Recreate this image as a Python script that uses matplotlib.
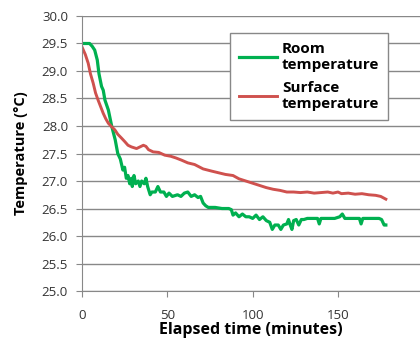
import matplotlib
matplotlib.use('Agg')
import matplotlib.pyplot as plt

# room temperature (green)
room_t = [0, 4.5, 6, 7.5, 9, 10, 11.5, 12.5, 13.5, 15.5, 17.5, 19.5, 21, 22.5, 24, 25, 26, 27,
          28, 29, 29.5, 30.5, 31.5, 33, 34, 35, 36.5, 37.5, 38.5, 40, 41, 43, 44.5, 46, 48,
          49.5, 51, 53, 56, 58, 60, 62, 64, 66, 68, 69.5, 71, 72.5, 74, 78, 82, 86, 87.5,
          88.5, 90, 92, 94, 96, 98, 100, 102, 104, 106, 108, 110, 111.5, 113, 115, 116.5,
          118, 120, 121, 122, 123, 124, 125.5, 127, 128.5, 130, 132, 138, 139, 140, 148,
          151, 152.5, 154, 162.5, 163.5, 164.5, 174, 175.5, 177, 178]
room_T = [29.5, 29.5, 29.45, 29.38, 29.2, 28.95, 28.72, 28.65, 28.47, 28.29, 27.99, 27.75,
          27.5, 27.4, 27.2, 27.25, 27.05, 27.1, 26.95, 27.05, 26.9, 27.1, 26.95, 27.0, 26.9,
          27.0, 26.95, 27.05, 26.9, 26.75, 26.8, 26.8, 26.9, 26.8, 26.8, 26.72, 26.78, 26.72,
          26.75, 26.72, 26.78, 26.8, 26.72, 26.75, 26.7, 26.72, 26.6, 26.55, 26.52, 26.52,
          26.5, 26.5, 26.48, 26.38, 26.42, 26.35, 26.4, 26.35, 26.35, 26.32, 26.38, 26.3,
          26.35, 26.28, 26.25, 26.12, 26.2, 26.2, 26.12, 26.2, 26.22, 26.3, 26.2, 26.12,
          26.28, 26.3, 26.2, 26.3, 26.3, 26.32, 26.32, 26.22, 26.32, 26.32, 26.35, 26.4,
          26.32, 26.32, 26.22, 26.32, 26.32, 26.3, 26.2, 26.2]

# surface temperature (red)
surf_t = [0, 2, 3.7, 5, 6.6, 8, 9.5, 11, 12.5, 14, 15.5, 17, 19.3, 21, 23.2, 25, 27, 29, 32,
          34, 36, 37.5, 39, 41.7, 45, 48.5, 52, 55, 58.3, 62, 66, 71, 76, 80, 84, 88.5, 92,
          96, 100, 104, 108, 112, 116, 120, 124, 128, 132, 136, 140, 144, 147, 150, 152, 156,
          160, 164, 168, 172, 175, 178]
surf_T = [29.44, 29.3, 29.14, 28.95, 28.78, 28.6, 28.47, 28.35, 28.23, 28.13, 28.05, 28.0,
          27.93, 27.85, 27.78, 27.72, 27.65, 27.62, 27.59, 27.62, 27.65, 27.63, 27.57, 27.53,
          27.52, 27.47, 27.45, 27.42, 27.38, 27.33, 27.3, 27.22, 27.18, 27.15, 27.12, 27.1,
          27.04, 27.0, 26.96, 26.92, 26.88, 26.85, 26.83, 26.8, 26.8, 26.79, 26.8, 26.78,
          26.79, 26.8, 26.78, 26.8, 26.77, 26.78, 26.76, 26.77, 26.75, 26.74, 26.72, 26.67]

x_ticks = [0, 50, 100, 150]
y_ticks = [25.0, 25.5, 26.0, 26.5, 27.0, 27.5, 28.0, 28.5, 29.0, 29.5, 30.0]

plt.rcParams['font.family'] = ['Open Sans', 'DejaVu Sans']

fig = plt.figure(figsize=(4.2, 3.4), dpi=100)
ax = fig.add_axes([0.195, 0.144, 0.805, 0.809])

ax.plot(room_t, room_T, color='#00b050', linewidth=2.3, label='Room\ntemperature')
ax.plot(surf_t, surf_T, color='#cf514e', linewidth=2.1, label='Surface\ntemperature')

ax.set_xlim(0, 198)
ax.set_ylim(25, 30)
ax.set_xticks(x_ticks)
ax.set_yticks(y_ticks)
ax.set_yticklabels(['%.1f' % v for v in y_ticks])
ax.grid(True, axis='y', color='#888888', linewidth=1)
ax.set_axisbelow(True)

for s in ['top', 'right']:
    ax.spines[s].set_visible(False)
for s in ['left', 'bottom']:
    ax.spines[s].set_color('#888888')
ax.tick_params(axis='x', length=4, color='#888888', pad=9, labelsize=9.5, labelcolor='#333333')
ax.tick_params(axis='y', length=4, color='#888888', pad=6, labelsize=9.5, labelcolor='#333333')

ax.set_xlabel('Elapsed time (minutes)', fontsize=11.5, fontweight='bold', labelpad=0)
ax.set_ylabel('Temperature (°C)', fontsize=10.5, fontweight='bold', labelpad=10)

leg = ax.legend(loc='upper left', bbox_to_anchor=(0.438, 0.938), borderaxespad=0,
                fancybox=False, edgecolor='#888888', framealpha=1, handlelength=2.5,
                handletextpad=0.3, borderpad=0.6, labelspacing=0.55,
                prop={'weight': 'bold', 'size': 11})
leg.get_frame().set_linewidth(1)

fig.savefig('out.png', dpi=100)
